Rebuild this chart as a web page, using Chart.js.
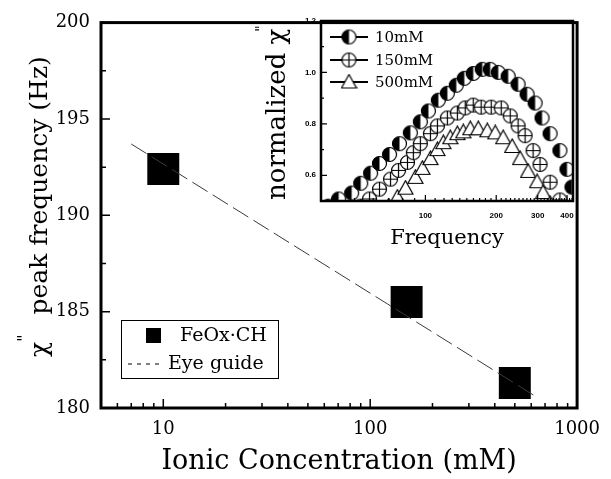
<!DOCTYPE html>
<html>
<head>
<meta charset="utf-8">
<script src="https://cdn.jsdelivr.net/npm/chart.js@4.4.1/dist/chart.umd.min.js"></script>
<style>
  html, body { margin: 0; padding: 0; background: #fff; }
  #wrap { position: relative; width: 611px; height: 479px; overflow: hidden; }
  #main { position: absolute; left: 0; top: 0; }
  #inset { position: absolute; left: 240px; top: 10px; }
</style>
</head>
<body>
<div id="wrap">
  <canvas id="main" width="611" height="479"></canvas>
  <canvas id="inset" width="347" height="245"></canvas>
</div>
<script>
// main plot: peak frequency vs ionic concentration
const concentration = [10, 150, 500];
const peakFrequency = [192.4, 185.5, 181.3];
const guideConc = [7, 620];
const guidePeak = [193.7, 180.65];

// inset: normalized chi'' vs frequency
const freq10 = [38.8, 42.8, 48.6, 53.1, 58.5, 63.8, 70.4, 77.6, 86.3, 95.2, 103, 113.5, 124, 135.3, 146.3, 159.7, 174.4, 188.5, 203.9, 224.8, 247.8, 270.5, 292.6, 313.2, 338.8, 373, 399.7, 419.8];
const chi10 = [0.48, 0.508, 0.531, 0.569, 0.608, 0.646, 0.681, 0.723, 0.765, 0.808, 0.85, 0.892, 0.919, 0.95, 0.977, 0.996, 1.012, 1.012, 1.0, 0.985, 0.954, 0.915, 0.881, 0.823, 0.762, 0.696, 0.623, 0.554];
const freq150 = [53.1, 57.9, 63.8, 71.1, 76.9, 83.9, 88.9, 95.2, 105, 112.5, 124, 136.7, 147.7, 159.7, 172.6, 190.4, 210, 229.3, 247.8, 265.3, 287, 307, 338.8, 373, 403];
const chi150 = [0.48, 0.508, 0.546, 0.585, 0.619, 0.65, 0.688, 0.723, 0.762, 0.792, 0.823, 0.842, 0.862, 0.873, 0.865, 0.865, 0.862, 0.831, 0.792, 0.754, 0.696, 0.642, 0.573, 0.504, 0.47];
const freq500 = [69.7, 76.0, 82.3, 90.7, 97.1, 105, 112.5, 119.2, 127.6, 136.7, 144.9, 155.2, 167.8, 183.2, 198, 214.1, 233.8, 252.7, 273.2, 298.4, 316.2, 338.8];
const chi500 = [0.48, 0.515, 0.55, 0.592, 0.627, 0.665, 0.7, 0.727, 0.746, 0.762, 0.769, 0.781, 0.781, 0.773, 0.765, 0.746, 0.712, 0.665, 0.615, 0.575, 0.533, 0.49];

// tick labels
const mainXTicks = [10, 100, 1000];
const mainYTicks = [180, 185, 190, 195, 200];
const insetXTicks = [100, 200, 300, 400];
const insetYTicks = [0.6, 0.8, 1.0, 1.2];

const SERIF = "'DejaVu Serif', serif";

// minor tick positions (axis decoration only)
const logMinor = (from, to) => {
  const out = [];
  for (let d = 1; d <= 1000; d *= 10)
    for (let k = 2; k <= 9; k++) if (k * d >= from && k * d <= to) out.push(k * d);
  return out;
};
const tens = [];
for (let f = 40; f <= 420; f += 10) if (f % 100) tens.push(f);

// marker images
function marker(kind) {
  const c = document.createElement('canvas');
  c.width = 17; c.height = 17;
  const g = c.getContext('2d');
  g.lineWidth = 1.2;
  g.strokeStyle = '#000';
  if (kind === 'tri') {
    g.beginPath();
    g.moveTo(8.5, 1); g.lineTo(1, 14.5); g.lineTo(16, 14.5); g.closePath();
    g.fillStyle = '#fff'; g.fill(); g.stroke();
    return c;
  }
  g.beginPath(); g.arc(8.5, 8.5, 7, 0, Math.PI * 2);
  g.fillStyle = '#fff'; g.fill();
  if (kind === 'half') {
    g.beginPath(); g.arc(8.5, 8.5, 7, Math.PI / 2, Math.PI * 1.5);
    g.closePath(); g.fillStyle = '#000'; g.fill();
  } else {
    g.beginPath();
    g.moveTo(1.5, 8.5); g.lineTo(15.5, 8.5);
    g.moveTo(8.5, 1.5); g.lineTo(8.5, 15.5);
    g.stroke();
  }
  g.beginPath(); g.arc(8.5, 8.5, 7, 0, Math.PI * 2); g.stroke();
  return c;
}
const halfMark = marker('half'), plusMark = marker('plus'), triMark = marker('tri');

// frame + inward ticks
const frameTicks = {
  id: 'frameTicks',
  afterDatasetsDraw(chart, args, o) {
    const { ctx, chartArea: a } = chart;
    const sx = chart.scales.x, sy = chart.scales.y;
    ctx.save();
    ctx.strokeStyle = '#000';
    ctx.lineWidth = o.tickWidth;
    ctx.beginPath();
    const xt = (list, len) => list.forEach(v => {
      const p = sx.getPixelForValue(v);
      ctx.moveTo(p, a.bottom); ctx.lineTo(p, a.bottom - len);
    });
    const yt = (list, len) => list.forEach(v => {
      const p = sy.getPixelForValue(v);
      ctx.moveTo(a.left, p); ctx.lineTo(a.left + len, p);
    });
    xt(o.xMajor, o.major); xt(o.xMinor, o.minor);
    yt(o.yMajor, o.major); yt(o.yMinor, o.minor);
    ctx.stroke();
    ctx.lineWidth = o.frame;
    ctx.strokeRect(a.left, a.top, a.width, a.height);
    ctx.restore();
  }
};

// rotated y title with raised double prime after chi
const rotTitle = {
  id: 'rotTitle',
  afterDraw(chart, args, o) {
    const ctx = chart.ctx;
    ctx.save();
    ctx.translate(o.x, o.y);
    ctx.rotate(-Math.PI / 2);
    ctx.fillStyle = '#000';
    ctx.textAlign = 'left';
    ctx.textBaseline = 'alphabetic';
    let u = 0;
    ctx.font = o.font;
    ctx.fillText(o.before, u, 0);
    u += ctx.measureText(o.before).width + o.supShift;
    ctx.font = o.supFont;
    ctx.fillText('"', u, -o.raise);
    u += ctx.measureText('"').width + o.gap;
    ctx.font = o.font;
    ctx.fillText(o.after, u, 0);
    ctx.restore();
  }
};

// legend box for the main plot
const mainLegend = {
  id: 'mainLegend',
  afterDraw(chart) {
    const ctx = chart.ctx;
    const ds = chart.data.datasets;
    ctx.save();
    ctx.strokeStyle = '#000';
    ctx.lineWidth = 1;
    ctx.strokeRect(121.5, 320.5, 157, 58);
    ctx.fillStyle = '#000';
    ctx.fillRect(146, 328, 15, 15);
    ctx.beginPath();
    ctx.setLineDash([4, 5]);
    ctx.moveTo(128, 364); ctx.lineTo(160, 364);
    ctx.stroke();
    ctx.setLineDash([]);
    ctx.font = '19px ' + SERIF;
    ctx.textBaseline = 'middle';
    ctx.fillText(ds[0].label, 180, 336);
    ctx.fillText(ds[1].label, 168, 364);
    ctx.restore();
  }
};

// legend for the inset
const insetLegend = {
  id: 'insetLegend',
  afterDraw(chart) {
    const ctx = chart.ctx;
    const rows = [27, 50, 72];
    ctx.save();
    ctx.strokeStyle = '#000';
    ctx.lineWidth = 2;
    ctx.font = '15px ' + SERIF;
    ctx.fillStyle = '#000';
    ctx.textBaseline = 'middle';
    chart.data.datasets.forEach((d, i) => {
      const y = rows[i];
      ctx.beginPath(); ctx.moveTo(90, y); ctx.lineTo(128, y); ctx.stroke();
      ctx.drawImage(d.pointStyle, 109 - 8.5, y - 8.5);
      ctx.fillText(d.label, 135, y + 1);
    });
    ctx.restore();
  }
};

new Chart(document.getElementById('main'), {
  type: 'scatter',
  data: {
    datasets: [
      {
        label: 'FeOx·CH',
        data: concentration.map((c, i) => ({ x: c, y: peakFrequency[i] })),
        pointStyle: 'rect',
        pointRadius: 22.6,
        backgroundColor: '#000',
        borderWidth: 0,
        order: 1
      },
      {
        label: 'Eye guide',
        data: guideConc.map((c, i) => ({ x: c, y: guidePeak[i] })),
        showLine: true,
        borderColor: '#3a3a3a',
        borderWidth: 1,
        borderDash: [18, 6],
        pointRadius: 0,
        order: 0
      }
    ]
  },
  options: {
    responsive: false,
    animation: false,
    devicePixelRatio: 1,
    events: [],
    layout: { padding: { top: 15, right: 24, left: 0, bottom: 0 } },
    plugins: {
      legend: { display: false },
      tooltip: { enabled: false },
      frameTicks: {
        frame: 3, tickWidth: 1.5, major: 9, minor: 5,
        xMajor: mainXTicks, xMinor: logMinor(5, 1000),
        yMajor: mainYTicks, yMinor: [182.5, 187.5, 192.5, 197.5]
      },
      rotTitle: {
        x: 47, y: 357, font: '25px ' + SERIF, supFont: '16px ' + SERIF,
        before: 'χ', after: ' peak frequency (Hz)', raise: 18, supShift: 0, gap: 12
      }
    },
    scales: {
      x: {
        type: 'logarithmic', min: 5, max: 1000,
        grid: { display: false, drawTicks: false }, border: { display: false },
        afterBuildTicks: s => { s.ticks = mainXTicks.map(v => ({ value: v })); },
        ticks: {
          autoSkip: false, maxRotation: 0, padding: 11, color: '#000',
          font: { family: SERIF, size: 18 },
          callback: v => String(v)
        },
        title: {
          display: true, text: 'Ionic Concentration (mM)', color: '#000',
          font: { family: SERIF, size: 27 }, padding: { top: 0, bottom: 1 }
        },
        afterFit: s => { s.height = 71; }
      },
      y: {
        min: 180, max: 200,
        grid: { display: false, drawTicks: false }, border: { display: false },
        afterBuildTicks: s => { s.ticks = mainYTicks.map(v => ({ value: v })); },
        ticks: { padding: 11, color: '#000', font: { family: SERIF, size: 18 } },
        afterFit: s => { s.width = 101; }
      }
    }
  },
  plugins: [frameTicks, rotTitle, mainLegend]
});

const insetSet = (label, fx, fy, style) => ({
  label,
  data: fx.map((f, i) => ({ x: f, y: fy[i] })),
  pointStyle: style,
  pointRadius: 8,
  clip: 0
});

new Chart(document.getElementById('inset'), {
  type: 'scatter',
  data: {
    datasets: [
      insetSet('10mM', freq10, chi10, halfMark),
      insetSet('150mM', freq150, chi150, plusMark),
      insetSet('500mM', freq500, chi500, triMark)
    ]
  },
  options: {
    responsive: false,
    animation: false,
    devicePixelRatio: 1,
    events: [],
    layout: { padding: { top: 11, right: 14, left: 0, bottom: 0 } },
    plugins: {
      legend: { display: false },
      tooltip: { enabled: false },
      frameTicks: {
        frame: 2.5, tickWidth: 1.2, major: 6, minor: 3,
        xMajor: insetXTicks, xMinor: tens,
        yMajor: insetYTicks, yMinor: [0.7, 0.9, 1.1]
      },
      rotTitle: {
        x: 45, y: 190, font: '26px ' + SERIF, supFont: '14px ' + SERIF,
        before: 'normalized χ', after: '', raise: 19.5, supShift: -3, gap: 0
      }
    },
    scales: {
      x: {
        type: 'logarithmic', min: 36, max: 424,
        grid: { display: false, drawTicks: false }, border: { display: false },
        afterBuildTicks: s => { s.ticks = insetXTicks.map(v => ({ value: v })); },
        ticks: {
          autoSkip: false, maxRotation: 0, padding: 10, color: '#000',
          font: { family: "'Liberation Sans', sans-serif", size: 8, weight: 'bold' },
          callback: v => String(v)
        },
        title: {
          display: true, text: 'Frequency', color: '#000',
          font: { family: SERIF, size: 21 }, padding: { top: 0, bottom: 4 }
        },
        afterFit: s => { s.height = 54; }
      },
      y: {
        min: 0.5, max: 1.2,
        grid: { display: false, drawTicks: false }, border: { display: false },
        afterBuildTicks: s => { s.ticks = insetYTicks.map(v => ({ value: v })); },
        ticks: {
          padding: 5, color: '#000',
          font: { family: "'Liberation Sans', sans-serif", size: 8, weight: 'bold' },
          callback: v => v.toFixed(1)
        },
        afterFit: s => { s.width = 81; }
      }
    }
  },
  plugins: [frameTicks, rotTitle, insetLegend]
});
</script>
</body>
</html>
